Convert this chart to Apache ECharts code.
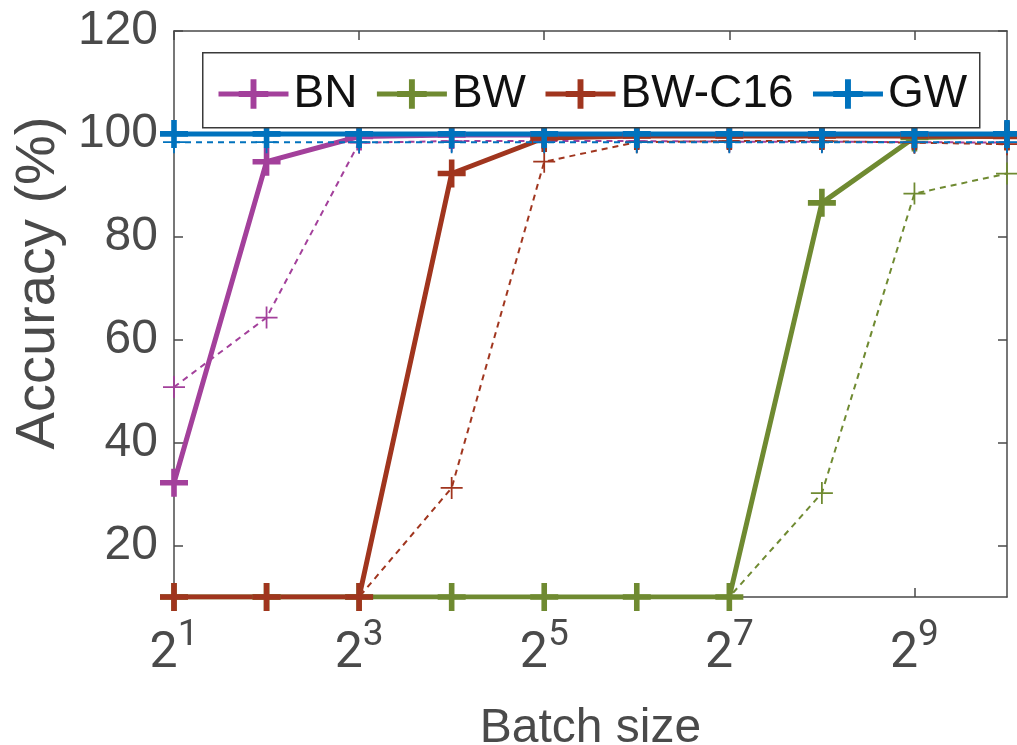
<!DOCTYPE html>
<html>
<head>
<meta charset="utf-8">
<script src="https://cdn.jsdelivr.net/npm/echarts@6/dist/echarts.min.js"></script>
<style>
  html, body { margin: 0; padding: 0; background: #fff; }
  #chart { width: 1017px; height: 745px; }
</style>
</head>
<body>
<div id="chart"></div>
<script>
// Batch sizes are powers of two; x is plotted as the exponent.
const batchExponents = [1, 2, 3, 4, 5, 6, 7, 8, 9, 10];
const xTickExponents = [1, 3, 5, 7, 9];
const yTickValues = [20, 40, 60, 80, 100, 120];

// Accuracy (%) per method; solid = main run, dashed = companion run
const bnSolid     = [32.2, 94.6, 99.5, 99.8, 99.8, 99.8, 99.8, 99.8, 99.8, 99.8];
const bnDashed    = [50.8, 64.3, 98.3, 98.6, 98.6, 98.6, 98.5, 98.5, 98.4, 98.3];
const bwSolid     = [10, 10, 10, 10, 10, 10, 10, 86.6, 99.3, 99.6];
const bwDashed    = [10, 10, 10, 10, 10, 10, 10, 30.2, 88.4, 92.3];
const bwc16Solid  = [10, 10, 10, 92.3, 99.2, 99.6, 99.6, 99.6, 99.6, 99.5];
const bwc16Dashed = [10, 10, 10, 31.2, 94.6, 98.4, 98.6, 98.6, 98.3, 98.0];
const gwSolid     = [100, 100, 100, 100, 100, 100, 100, 100, 100, 100];
const gwDashed    = [98.4, 98.4, 98.4, 98.4, 98.4, 98.4, 98.4, 98.4, 98.4, 98.4];

const legendNames = ['BN', 'BW', 'BW-C16', 'GW'];

const COLORS = { BN: '#A3409B', BW: '#6F8A31', 'BW-C16': '#A0351E', GW: '#0072BD' };
const AXIS_GRAY = '#4a4a4a';

// plus-shaped markers: heavy for solid runs, thin for dashed runs
const PLUS_HEAVY = 'path://M4,0H6V4H10V6H6V10H4V6H0V4H4Z';
const PLUS_THIN = 'path://M4.6,0H5.4V4.6H10V5.4H5.4V10H4.6V5.4H0V4.6H4.6Z';

function pairs(ys) { return batchExponents.map((e, i) => [e, ys[i]]); }

function solid(name, ys) {
  return {
    name: name, type: 'line', data: pairs(ys),
    symbol: PLUS_HEAVY, symbolSize: 28,
    itemStyle: { color: COLORS[name] },
    lineStyle: { color: COLORS[name], width: 5 },
    emphasis: { disabled: true }
  };
}
function dashed(name, key, ys) {
  return {
    name: name, type: 'line', data: pairs(ys),
    symbol: PLUS_THIN, symbolSize: 22,
    itemStyle: { color: COLORS[key] },
    lineStyle: { color: COLORS[key], width: 2, type: [6, 5] },
    emphasis: { disabled: true }
  };
}

const chart = echarts.init(document.getElementById('chart'), null, { renderer: 'canvas' });

const xBase = {
  type: 'value', min: 1, max: 10,
  axisLine: { show: true, onZero: false, lineStyle: { color: AXIS_GRAY, width: 1.5 } },
  axisTick: { show: true, inside: true, length: 9, customValues: xTickExponents,
              lineStyle: { color: AXIS_GRAY, width: 1.5 } },
  splitLine: { show: false }
};
const yBase = {
  type: 'value', min: 10, max: 120,
  axisLine: { show: true, onZero: false, lineStyle: { color: AXIS_GRAY, width: 1.5 } },
  axisTick: { show: true, inside: true, length: 9, customValues: yTickValues,
              lineStyle: { color: AXIS_GRAY, width: 1.5 } },
  splitLine: { show: false }
};

chart.setOption({
  animation: false,
  backgroundColor: '#ffffff',
  grid: { left: 174, right: 10, top: 31, bottom: 148, containLabel: false, outerBoundsMode: 'none' },
  xAxis: [
    Object.assign({}, xBase, {
      position: 'bottom',
      name: 'Batch size', nameLocation: 'middle', nameGap: 108,
      nameTextStyle: { fontFamily: 'Liberation Sans, Arial, sans-serif', fontSize: 48, color: AXIS_GRAY },
      axisLabel: {
        show: true, margin: 20, customValues: xTickExponents,
        formatter: v => '{b|2}{s|' + v + '}',
        rich: {
          b: { fontFamily: 'Liberation Sans Narrow, Roboto, sans-serif', fontSize: 50, lineHeight: 62,
               color: AXIS_GRAY, verticalAlign: 'bottom' },
          s: { fontFamily: 'Liberation Sans Narrow, Roboto, sans-serif', fontSize: 37, lineHeight: 40,
               color: AXIS_GRAY, verticalAlign: 'top' }
        }
      }
    }),
    Object.assign({}, xBase, { position: 'top', axisLabel: { show: false } })
  ],
  yAxis: [
    Object.assign({}, yBase, {
      position: 'left',
      name: 'Accuracy (%)', nameLocation: 'middle', nameGap: 105, nameRotate: 90,
      nameTextStyle: { fontFamily: 'Liberation Sans, Arial, sans-serif', fontSize: 56, color: AXIS_GRAY,
                       padding: [0, 0, 0, 62] },
      axisLabel: { show: true, margin: 16, customValues: yTickValues,
                   fontFamily: 'Liberation Sans, Arial, sans-serif', fontSize: 48, color: AXIS_GRAY }
    }),
    Object.assign({}, yBase, { position: 'right', axisLabel: { show: false } })
  ],
  // legend frame
  graphic: [{
    type: 'rect', left: 202, top: 52, z: 5,
    shape: { width: 777, height: 75 },
    style: { fill: '#ffffff', stroke: '#3a3a3a', lineWidth: 1.5 }
  }],
  legend: {
    data: legendNames,
    left: 216, top: 71, z: 6,
    orient: 'horizontal',
    padding: 0,
    itemWidth: 70, itemHeight: 37, itemGap: 17,
    lineStyle: { width: 5 },
    textStyle: { fontFamily: 'Liberation Sans, Arial, sans-serif', fontSize: 46, color: '#111111' },
    selectedMode: false
  },
  series: [
    solid('BN', bnSolid),
    dashed('BN (dashed)', 'BN', bnDashed),
    solid('BW', bwSolid),
    dashed('BW (dashed)', 'BW', bwDashed),
    solid('BW-C16', bwc16Solid),
    dashed('BW-C16 (dashed)', 'BW-C16', bwc16Dashed),
    solid('GW', gwSolid),
    dashed('GW (dashed)', 'GW', gwDashed)
  ]
});
</script>
</body>
</html>
